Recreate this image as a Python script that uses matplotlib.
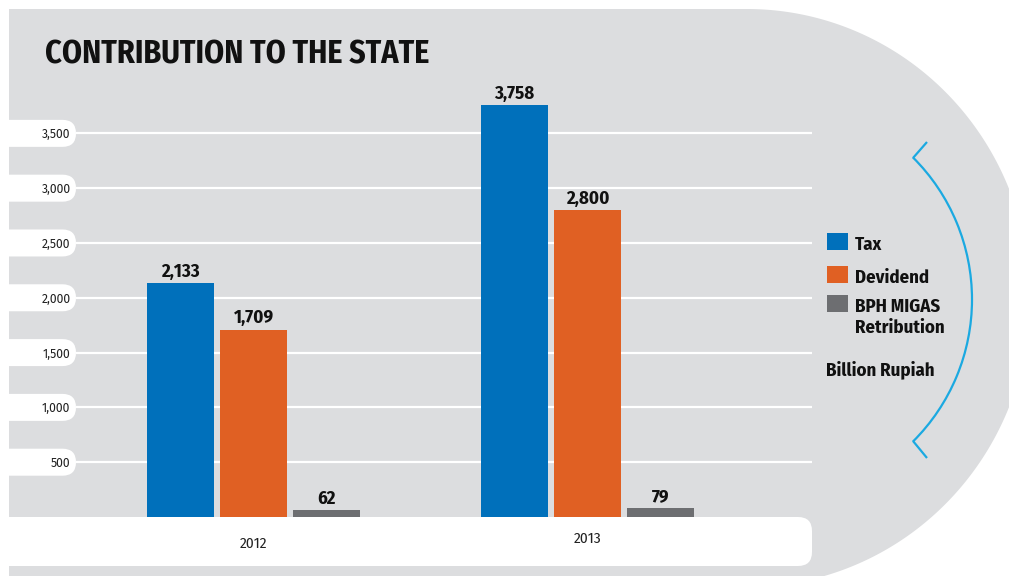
import numpy as np
import matplotlib.pyplot as plt
from matplotlib.patches import Polygon, FancyBboxPatch, Rectangle, Arc

# contribution to the state, billion rupiah
years = ["2012", "2013"]
series = ["Tax", "Devidend", "BPH MIGAS\nRetribution"]
tax = [2133, 3758]
dividend = [1709, 2800]
bph_migas = [62, 79]
y_ticks = [500, 1000, 1500, 2000, 2500, 3000, 3500]
unit_label = "Billion Rupiah"

colors = ["#0070bb", "#e06023", "#6d6e71"]
panel_grey = "#dcdddf"
bracket_blue = "#1ba9e1"
ink = "#111111"
cond = ["Fira Sans Condensed", "DejaVu Sans"]
plain = ["Fira Sans", "Open Sans", "DejaVu Sans"]

W, H = 1009, 576
fig = plt.figure(figsize=(W / 100, H / 100), dpi=100)

# background layer in pixel units
bg = fig.add_axes([0, 0, 1, 1])
bg.set_xlim(0, W)
bg.set_ylim(H, 0)
bg.axis("off")

# grey panel with the rounded right side
cx, cy, ea, eb = 747, 298, 283, 289
t = np.linspace(-np.pi / 2, np.arcsin((H - cy) / eb), 200)
edge = np.column_stack([cx + ea * np.cos(t), cy + eb * np.sin(t)])
panel = np.vstack([[9, cy - eb], edge, [9, H]])
bg.add_patch(Polygon(panel, closed=True, fc=panel_grey, ec="none"))

# white band under the bars
bg.add_patch(FancyBboxPatch((-30, 517), 842, 49,
                            boxstyle="round,pad=0,rounding_size=14",
                            fc="white", ec="none"))

bg.text(45, 64, "CONTRIBUTION TO THE STATE", family=cond, weight="bold",
        fontsize=23, color=ink, va="baseline", ha="left")

# chart area
left, right, bottom, top = 76, 812, 517, 95
ax = fig.add_axes([left / W, (H - bottom) / H, (right - left) / W, (bottom - top) / H])
ax.set_facecolor("none")
for s in ax.spines.values():
    s.set_visible(False)

x = np.arange(len(years))
step, width = 0.2186, 0.2006
values = [tax, dividend, bph_migas]
for i, (vals, c) in enumerate(zip(values, colors)):
    bars = ax.bar(x + (i - 1) * step, vals, width, color=c, zorder=3)
    ax.bar_label(bars, labels=[f"{v:,}" for v in vals], padding=2,
                 family=cond, weight="bold", fontsize=13.5, color=ink)

ax.set_xlim(-0.5314, 1.672)
ax.set_ylim(0, 3850)
ax.set_yticks(y_ticks)
ax.set_yticklabels([f"{v:,}" for v in y_ticks], family=plain, weight="normal",
                   fontsize=8.7, color="#222222")
ax.tick_params(axis="y", length=0, pad=4)
ax.tick_params(axis="x", length=0, labelbottom=False)
ax.yaxis.grid(True, color="white", lw=1.6)
ax.set_axisbelow(True)

for i, yr in enumerate(years):
    ax.annotate(yr, xy=(x[i], 0), xycoords=("data", "axes fraction"),
                xytext=(0, -31 + 5 * i), textcoords="offset pixels",
                ha="center", va="baseline", family=cond, weight="normal",
                fontsize=11, color="#222222")

# white pills behind the tick labels
for v in y_ticks:
    py = H - ax.transData.transform((0, v))[1]
    bg.add_patch(FancyBboxPatch((-30, py - 13.5), 106, 27,
                                boxstyle="round,pad=0,rounding_size=13.5",
                                fc="white", ec="none"))

# legend
key_tops = [233, 266, 295]
for top_y, c, name in zip(key_tops, colors, series):
    bg.add_patch(Rectangle((827, top_y), 21, 17, fc=c, ec="none"))
    for k, line in enumerate(name.split("\n")):
        bg.text(855, top_y + 17 + 21 * k, line, family=cond, weight="bold",
                fontsize=13.5, color=ink, va="baseline", ha="left")
bg.text(826, 375, unit_label, family=cond, weight="bold", fontsize=13.5,
        color=ink, va="baseline", ha="left")

# blue bracket round the legend
bcx, bcy, br = 771.6, 299.5, 200.4
bg.add_patch(Arc((bcx, bcy), 2 * br, 2 * br, theta1=-45.2, theta2=45.2,
                 color=bracket_blue, lw=1.6))
bg.plot([913, 927], [158, 142], color=bracket_blue, lw=1.6, solid_capstyle="butt")
bg.plot([913, 927], [441, 458], color=bracket_blue, lw=1.6, solid_capstyle="butt")

fig.savefig("out.png", dpi=100, facecolor="white")
